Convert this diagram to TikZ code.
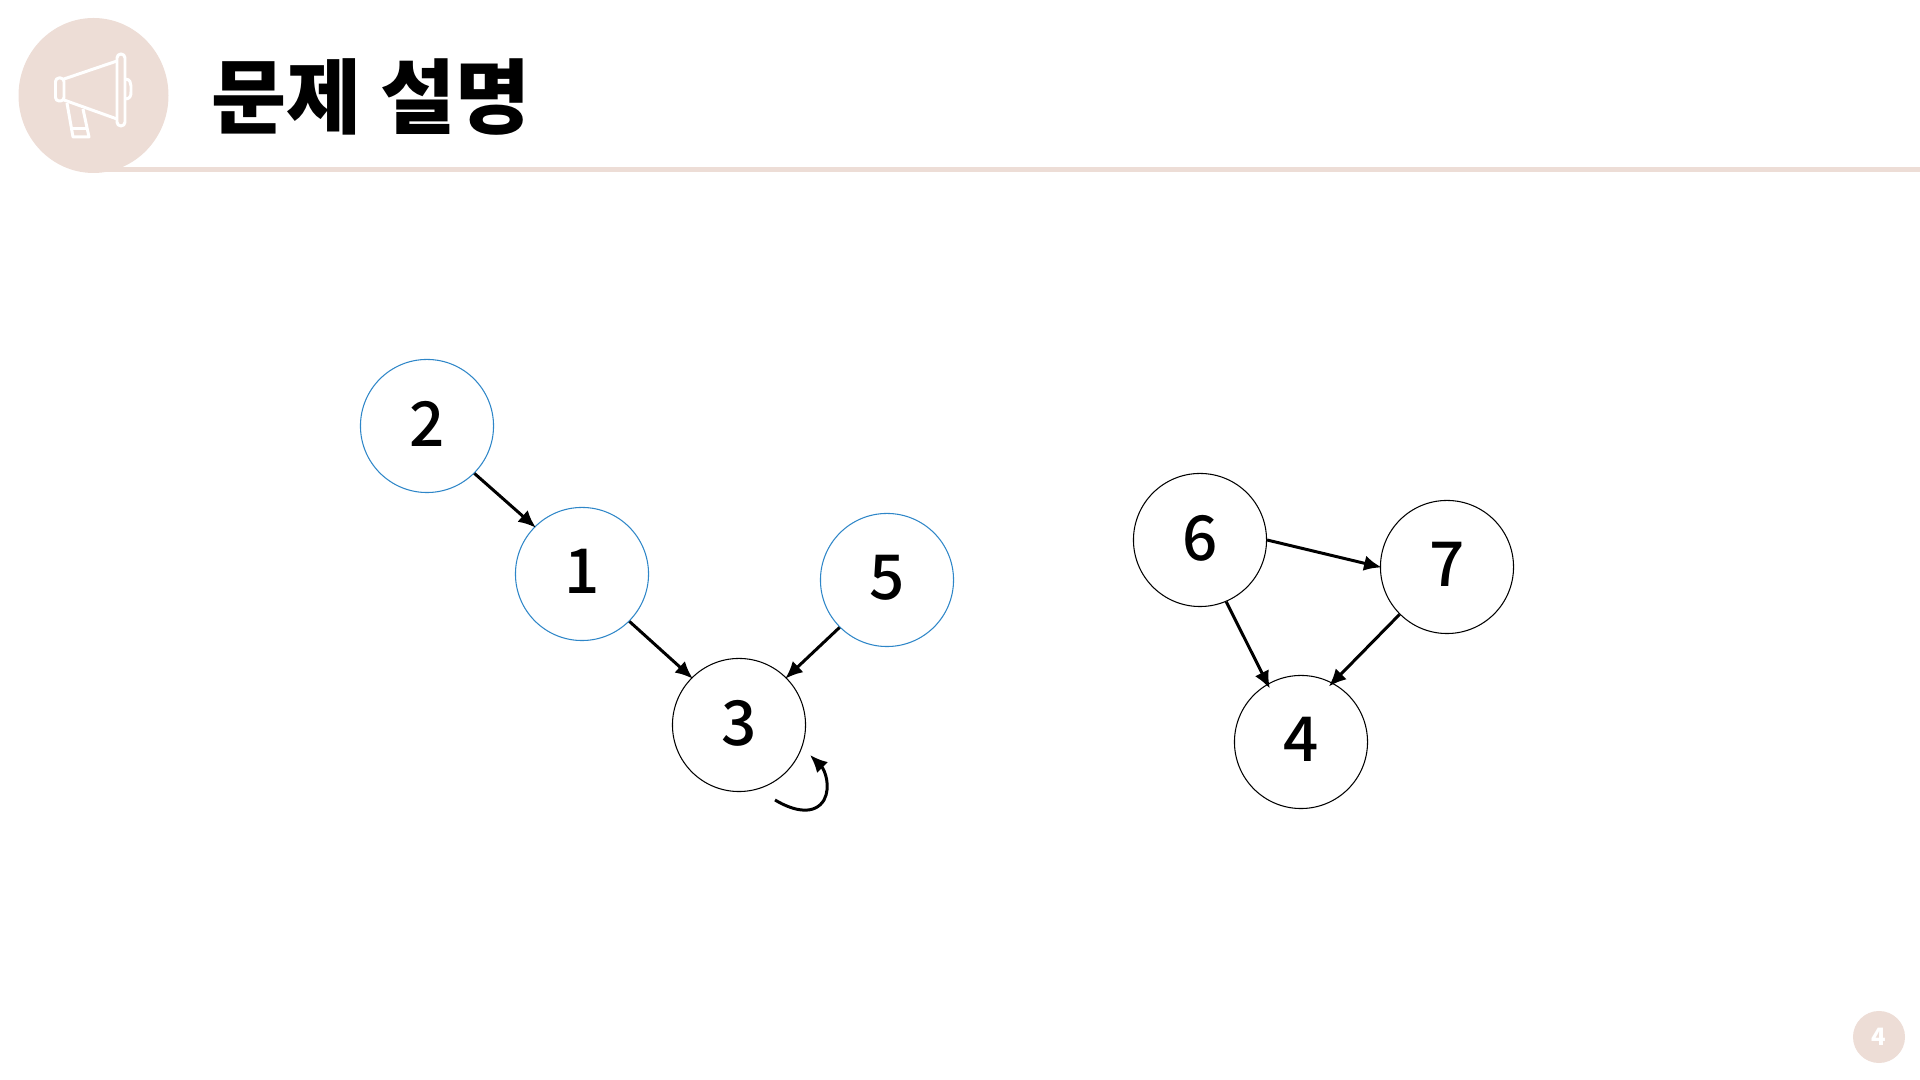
\documentclass[tikz,border=0pt]{standalone}
\usepackage{fontspec}
\setmainfont{Noto Sans CJK KR}
\newfontfamily\digitfont{Noto Sans CJK KR Medium}
\usepackage{tikz}
\usetikzlibrary{arrows.meta}
\definecolor{accent}{HTML}{EDDDD6}
\definecolor{nodeblue}{HTML}{2E86C8}
\tikzset{
  vertex/.style={circle, draw=black, fill=white, line width=0.3pt, minimum size=1.33cm, inner sep=0pt, text depth=0pt, font=\digitfont\fontsize{17.6}{20}\selectfont},
  visited/.style={vertex, draw=nodeblue},
  edge/.style={-{Latex[length=5pt,width=4.4pt]}, line width=0.85pt, shorten >=-0.5pt},
  icon/.style={white, line width=0.85pt, line join=round}
}
\begin{document}
\begin{tikzpicture}[x=0.01cm,y=-0.01cm]
\useasboundingbox (0,0) rectangle (1920,1080);
% header
\fill[accent] (100,167) rectangle (1920,172);
\fill[accent] (93.5,95.5) ellipse (75 and 77.5);
\node[font=\fontsize{23.2}{26}\selectfont\bfseries, anchor=west, inner sep=0pt] (title) at (211,97) {문제 설명};
% megaphone
\draw[icon, rounded corners=1.1pt] (117,54) rectangle (125,126);
\draw[icon, rounded corners=1pt] (55.5,78) rectangle (64,101);
\draw[icon] (64,79) -- (117,61) (64,100) -- (117,119);
\draw[icon] (125,79) .. controls (130,79) and (131,83) .. (131,86) -- (131,92) .. controls (131,96) and (130,99) .. (125,99);
\draw[icon] (67,103) -- (73,137) -- (89,137) -- (83,109);
\draw[icon] (72,129) -- (87,129);
% vertices
\foreach \n/\x/\y in {2/427/426,1/582/574,5/887/580} {
  \node[visited] (n\n) at (\x,\y) {\raisebox{1.3pt}{\n}};
}
\foreach \n/\x/\y in {3/739/725,6/1200/540,7/1447/567,4/1301/742} {
  \node[vertex] (n\n) at (\x,\y) {\raisebox{1.3pt}{\n}};
}
% edges
\foreach \a/\b/\p/\q in {2/1/-45/135,1/3/-45/135,5/3/-135/45,6/7/0/180} {
  \draw[edge] (n\a.\p) -- (n\b.\q);
}
\draw[edge, shorten >=-1.5pt] (n6.-67) -- (n4.120);
\draw[edge, shorten >=-1.5pt] (n7.-135) -- (n4.62);
\coordinate (loopa) at (775,800);
\coordinate (loopb) at (810,755);
\draw[edge, shorten >=0pt] (loopa) .. controls (795,812) and (815,815) .. (824,800) .. controls (831,787) and (825,770) .. (loopb);
% page number
\node[circle, fill=accent, minimum size=0.52cm, inner sep=0pt, text=white, font=\fontsize{6.8}{8}\selectfont\bfseries] (page) at (1879,1037) {4};
\end{tikzpicture}
\end{document}
